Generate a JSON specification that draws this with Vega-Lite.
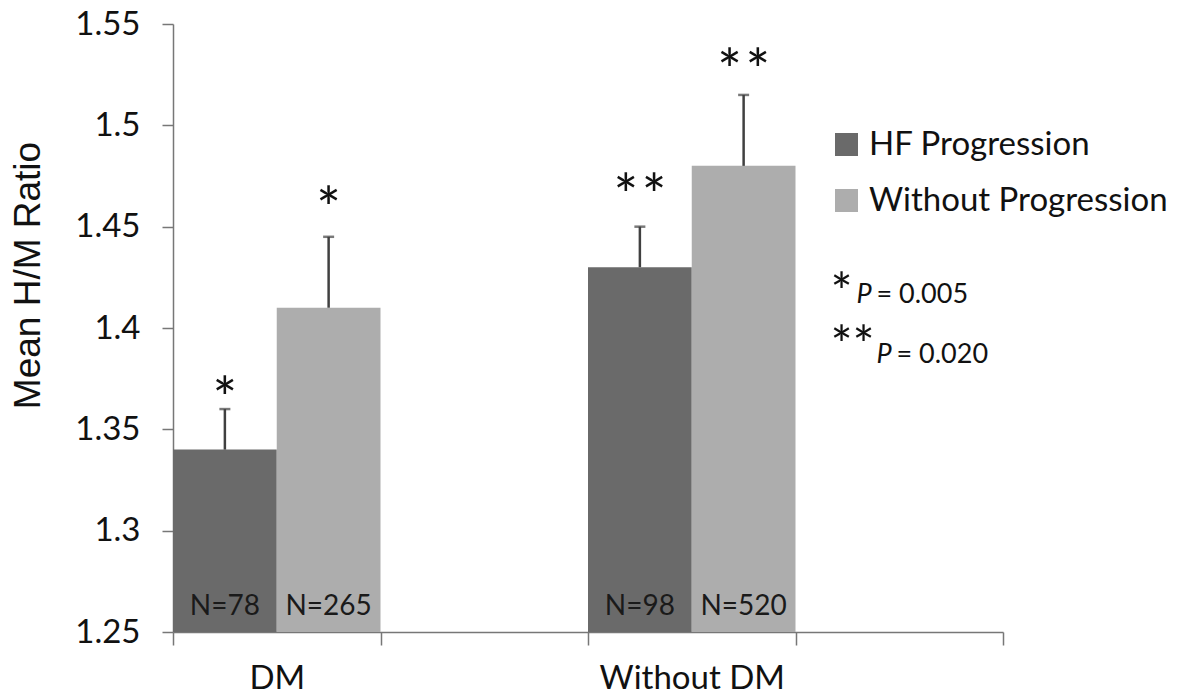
{
  "$schema": "https://vega.github.io/schema/vega-lite/v6.json",
  "autosize": "none",
  "width": 830,
  "height": 608,
  "padding": {"left": 173, "top": 24, "right": 177, "bottom": 64},
  "background": "white",
  "config": {"view": {"stroke": null}, "font": "Lato"},
  "datasets": {
    "bars": [
      {"cat": "DM", "group": "HF Progression", "value": 1.34, "upper": 1.36, "n": "N=78", "star": "*", "starY": 1.3551},
      {"cat": "DM", "group": "Without Progression", "value": 1.41, "upper": 1.445, "n": "N=265", "star": "*", "starY": 1.4488},
      {"cat": "Without DM", "group": "HF Progression", "value": 1.43, "upper": 1.45, "n": "N=98", "star": "*\u200a*", "starY": 1.4553},
      {"cat": "Without DM", "group": "Without Progression", "value": 1.48, "upper": 1.515, "n": "N=520", "star": "*\u200a*", "starY": 1.5169}
    ],
    "notes": [
      {"cat": "gap2", "line": 1, "star": "*", "sy": 1.4084, "p": "P", "rest": "= 0.005", "ty": 1.4124},
      {"cat": "gap2", "line": 2, "star": "**", "sy": 1.3822, "p": "P", "rest": "= 0.020", "ty": 1.3828}
    ]
  },
  "layer": [
    {
      "data": {"name": "bars"},
      "mark": {"type": "bar"},
      "encoding": {
        "x": {
          "field": "cat", "type": "nominal",
          "scale": {"domain": ["DM", "gap1", "Without DM", "gap2"], "paddingInner": 0, "paddingOuter": 0},
          "axis": {
            "title": null, "labelAngle": 0, "tickBand": "extent", "labelLimit": 400,
            "labelExpr": "datum.value == 'DM' || datum.value == 'Without DM' ? datum.value : ''",
            "labelFont": "Lato", "labelFontSize": 33, "labelColor": "#111111",
            "labelPadding": 17, "tickSize": 13, "tickColor": "#777777", "tickWidth": 1.5,
            "domainColor": "#777777", "domainWidth": 1.5
          }
        },
        "xOffset": {"field": "group", "type": "nominal", "scale": {"domain": ["HF Progression", "Without Progression"], "paddingInner": 0, "paddingOuter": 0}},
        "y": {
          "field": "value", "type": "quantitative",
          "scale": {"domain": [1.25, 1.55], "zero": false, "nice": false},
          "axis": {
            "title": "Mean H/M Ratio", "titleFont": "Liberation Sans", "titleFontSize": 37, "titleFontWeight": "normal", "titleColor": "#111111", "titlePadding": 27, "titleY": 251,
            "values": [1.25, 1.3, 1.35, 1.4, 1.45, 1.5, 1.55], "format": "~g",
            "grid": false, "labelFont": "Lato", "labelFontSize": 33, "labelColor": "#111111", "labelPadding": 22,
            "tickSize": 11, "tickColor": "#777777", "tickWidth": 1.5, "domainColor": "#777777", "domainWidth": 1.5
          }
        },
        "y2": {"datum": 1.25},
        "color": {
          "field": "group", "type": "nominal",
          "scale": {"domain": ["HF Progression", "Without Progression"], "range": ["#6a6a6a", "#adadad"]},
          "legend": {
            "title": null, "orient": "none", "legendX": 657, "legendY": 104, "padding": 0,
            "symbolType": "square", "symbolSize": 529, "symbolStrokeWidth": 0,
            "labelFont": "Lato", "labelFontSize": 33, "labelColor": "#111111", "labelOffset": 6, "rowPadding": 22, "labelLimit": 400
          }
        }
      }
    },
    {
      "data": {"name": "bars"},
      "mark": {"type": "text", "baseline": "alphabetic", "dy": -17, "font": "Lato", "fontSize": 28, "color": "#1a1a1a"},
      "encoding": {
        "x": {"field": "cat", "type": "nominal"},
        "xOffset": {"field": "group", "type": "nominal"},
        "y": {"datum": 1.25, "type": "quantitative"},
        "text": {"field": "n"}
      }
    },
    {
      "data": {"name": "bars"},
      "mark": {"type": "rule", "color": "#404040", "strokeWidth": 2.5},
      "encoding": {
        "x": {"field": "cat", "type": "nominal"},
        "xOffset": {"field": "group", "type": "nominal"},
        "y": {"field": "value", "type": "quantitative"},
        "y2": {"field": "upper"}
      }
    },
    {
      "data": {"name": "bars"},
      "mark": {"type": "tick", "orient": "horizontal", "color": "#404040", "thickness": 2.5, "size": 11},
      "encoding": {
        "x": {"field": "cat", "type": "nominal"},
        "xOffset": {"field": "group", "type": "nominal"},
        "y": {"field": "upper", "type": "quantitative"}
      }
    },
    {
      "data": {"name": "bars"},
      "mark": {"type": "text", "baseline": "alphabetic", "font": "Lato", "fontSize": 58, "color": "#111111"},
      "encoding": {
        "x": {"field": "cat", "type": "nominal"},
        "xOffset": {"field": "group", "type": "nominal"},
        "y": {"field": "starY", "type": "quantitative"},
        "text": {"field": "star"}
      }
    },
    {
      "data": {"name": "notes"},
      "mark": {"type": "text", "align": "left", "baseline": "alphabetic", "dx": 35, "font": "Lato", "fontSize": 52, "color": "#111111"},
      "encoding": {
        "x": {"field": "cat", "type": "nominal", "bandPosition": 0},
        "y": {"field": "sy", "type": "quantitative"},
        "text": {"field": "star"}
      }
    },
    {
      "data": {"name": "notes"},
      "transform": [{"filter": "datum.line == 1"}],
      "mark": {"type": "text", "align": "left", "baseline": "alphabetic", "dx": 61, "font": "Lato", "fontStyle": "italic", "fontSize": 27, "color": "#111111"},
      "encoding": {
        "x": {"field": "cat", "type": "nominal", "bandPosition": 0},
        "y": {"field": "ty", "type": "quantitative"},
        "text": {"field": "p"}
      }
    },
    {
      "data": {"name": "notes"},
      "transform": [{"filter": "datum.line == 1"}],
      "mark": {"type": "text", "align": "left", "baseline": "alphabetic", "dx": 81, "font": "Lato", "fontSize": 27, "color": "#111111"},
      "encoding": {
        "x": {"field": "cat", "type": "nominal", "bandPosition": 0},
        "y": {"field": "ty", "type": "quantitative"},
        "text": {"field": "rest"}
      }
    },
    {
      "data": {"name": "notes"},
      "transform": [{"filter": "datum.line == 2"}],
      "mark": {"type": "text", "align": "left", "baseline": "alphabetic", "dx": 81, "font": "Lato", "fontStyle": "italic", "fontSize": 27, "color": "#111111"},
      "encoding": {
        "x": {"field": "cat", "type": "nominal", "bandPosition": 0},
        "y": {"field": "ty", "type": "quantitative"},
        "text": {"field": "p"}
      }
    },
    {
      "data": {"name": "notes"},
      "transform": [{"filter": "datum.line == 2"}],
      "mark": {"type": "text", "align": "left", "baseline": "alphabetic", "dx": 101, "font": "Lato", "fontSize": 27, "color": "#111111"},
      "encoding": {
        "x": {"field": "cat", "type": "nominal", "bandPosition": 0},
        "y": {"field": "ty", "type": "quantitative"},
        "text": {"field": "rest"}
      }
    }
  ]
}
